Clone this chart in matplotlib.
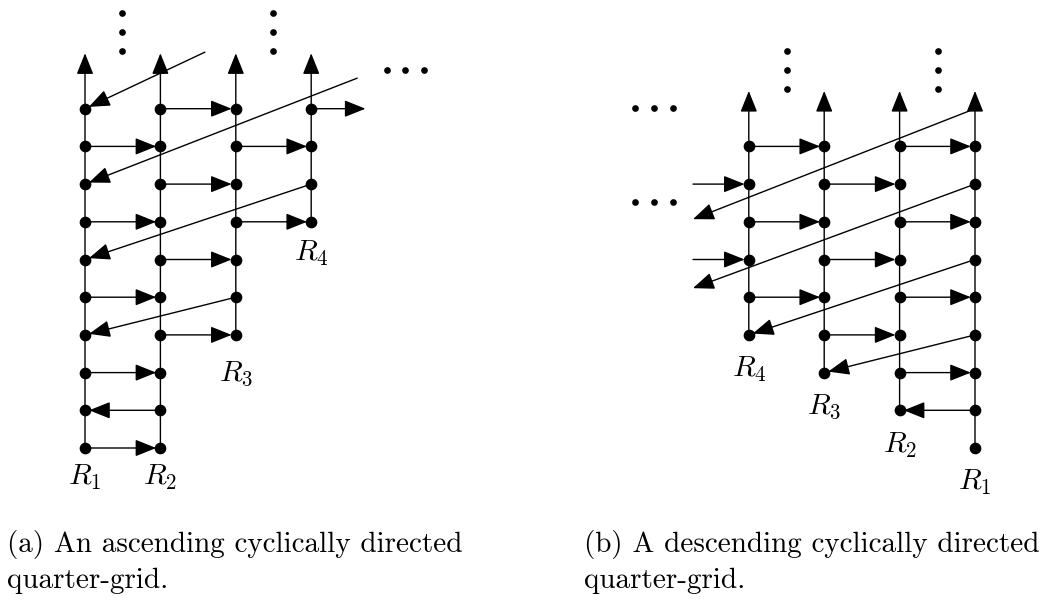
import matplotlib.pyplot as plt

plt.rcParams['mathtext.fontset'] = 'cm'

# (a) ascending quarter-grid: columns R1..R4 from left to right
a_bottom = [0, 0, 3, 6]          # lowest row of each column
a_top = 9                        # highest row with vertices
a_edges = [(0, 1, 2), (1, 2, 1), (2, 1, 2), (3, 2, 3), (4, 1, 2), (5, 2, 3),
           (6, 1, 2), (6, 3, 4), (7, 2, 3), (8, 1, 2), (8, 3, 4), (9, 2, 3)]
a_open = [((4, 9), (4.72, 9))]   # edges running out of the picture
a_diag = [((3, 4), (1, 3)), ((4, 7), (1, 5)), ((4.61, 9.81), (1, 7)), ((2.59, 10.5), (1, 9))]
a_labels = ['$R_1$', '$R_2$', '$R_3$', '$R_4$']
a_label_rows = [-0.98, -0.98, 1.78, 4.97]
a_vdots = [(1.49, [10.53, 11.03, 11.54]), (3.49, [10.53, 11.03, 11.54])]
a_hdots = [([5.0, 5.25, 5.5], 10.03)]

# (b) descending quarter-grid: columns R1..R4 from right to left
b_bottom = [0, 1, 2, 3]
b_top = 8
b_edges = [(8, 4, 3), (8, 2, 1), (7, 3, 2), (6, 4, 3), (6, 2, 1), (5, 3, 2),
           (4, 4, 3), (4, 2, 1), (3, 3, 2), (2, 2, 1), (1, 1, 2)]
b_open = [((4.74, 7), (4, 7)), ((4.74, 5), (4, 5))]
b_diag = [((1, 3), (3, 2)), ((1, 5), (4, 3)), ((1, 7), (4.74, 4.24)), ((1, 9), (4.74, 6.07))]
b_labels = ['$R_1$', '$R_2$', '$R_3$', '$R_4$']
b_label_rows = [-1.12, -0.12, 0.9, 1.88]
b_vdots = [(3.5, [9.52, 10.03, 10.53]), (1.49, [9.52, 10.03, 10.53])]
b_hdots = [([5.01, 5.26, 5.51], 9.02), ([5.01, 5.26, 5.51], 6.53)]

captions = [['(a) An ascending cyclically directed', 'quarter-grid.'],
            ['(b) A descending cyclically directed', 'quarter-grid.']]

COL_W = 75.4
ROW_H = 37.7
BASE_Y = 448

fig = plt.figure(figsize=(10.49, 6.03), dpi=100)
ax = fig.add_axes([0, 0, 1, 1])
ax.set_xlim(0, 1049)
ax.set_ylim(603, 0)
ax.axis('off')

head = '-|>,head_length=1.3,head_width=0.52'


def arrow(p, q, shrink):
    ax.annotate('', xy=q, xytext=p,
                arrowprops=dict(arrowstyle=head, mutation_scale=10, lw=1.0,
                                color='black', shrinkA=0, shrinkB=shrink))


def draw_panel(x0, sign, bottom, top, edges, open_edges, diag, labels, label_rows, vdots, hdots):
    def pos(c, r):
        return (x0 + sign * (c - 1) * COL_W, BASE_Y - r * ROW_H)

    xs, ys = [], []
    for i, b in enumerate(bottom):
        c = i + 1
        # column with upward arrow
        arrow(pos(c, b), pos(c, top + 1.47), 0)
        for r in range(b, top + 1):
            x, y = pos(c, r)
            xs.append(x)
            ys.append(y)
        lx, ly = pos(c, label_rows[i])
        ax.text(lx, ly, labels[i], fontsize=21.5, ha='center', va='baseline')
    for r, c1, c2 in edges:
        arrow(pos(c1, r), pos(c2, r), 3)
    for p, q in open_edges:
        node_end = float(q[0]).is_integer()
        arrow(pos(*p), pos(*q), 3 if node_end else 0)
    for p, q in diag:
        node_end = float(q[0]).is_integer()
        arrow(pos(*p), pos(*q), 3 if node_end else 0)
    ax.plot(xs, ys, 'o', color='black', ms=7.4, zorder=5)
    for c, rows in vdots:
        pts = [pos(c, r) for r in rows]
        ax.plot([p[0] for p in pts], [p[1] for p in pts], 'o', color='black', ms=3.8)
    for cs, r in hdots:
        pts = [pos(c, r) for c in cs]
        ax.plot([p[0] for p in pts], [p[1] for p in pts], 'o', color='black', ms=3.8)


draw_panel(85, 1, a_bottom, a_top, a_edges, a_open, a_diag, a_labels, a_label_rows, a_vdots, a_hdots)
draw_panel(975, -1, b_bottom, b_top, b_edges, b_open, b_diag, b_labels, b_label_rows, b_vdots, b_hdots)

for x, lines in zip([7, 584], captions):
    for k, line in enumerate(lines):
        ax.text(x, 552 + 36 * k, line, fontsize=21.0, family='cmr10',
                ha='left', va='baseline')

fig.savefig('out.png', dpi=100)
